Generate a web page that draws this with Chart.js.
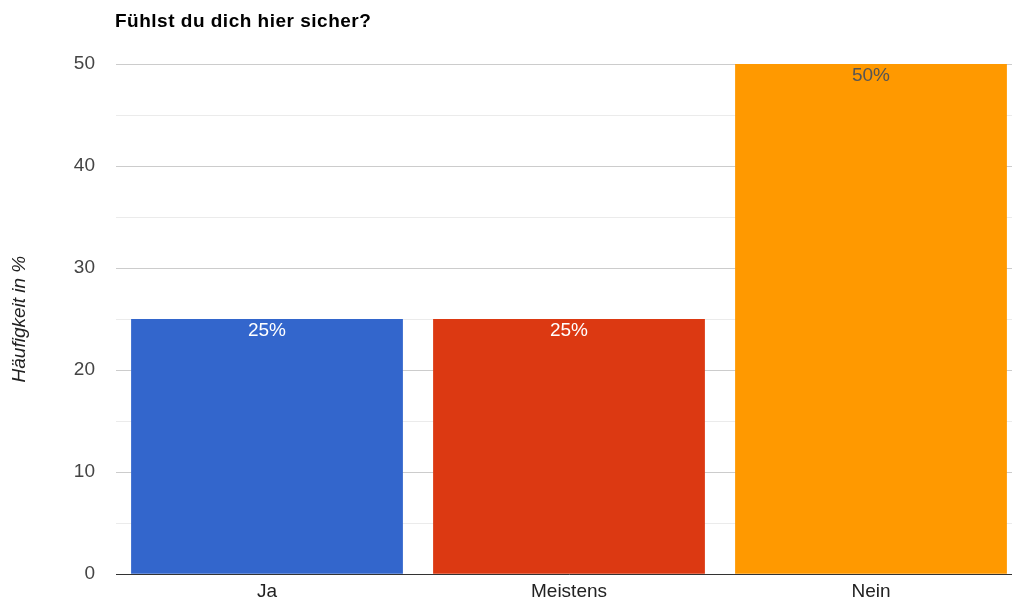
<!DOCTYPE html>
<html>
<head>
<meta charset="utf-8">
<script src="https://cdn.jsdelivr.net/npm/chart.js@4"></script>
<style>
html,body{margin:0;padding:0;background:#fff;overflow:hidden;}
#wrap{width:1012px;height:601px;position:relative;overflow:hidden;}
#c{position:absolute;left:0;top:0;}
</style>
</head>
<body>
<div id="wrap"><canvas id="c" width="1022" height="609"></canvas></div>
<script>
const categories = ["Ja", "Meistens", "Nein"];
const values = [25, 25, 50];
const valueLabels = ["25%", "25%", "50%"];
const barColors = ["#3366CC", "#DC3912", "#FF9900"];
const labelColors = ["#ffffff", "#ffffff", "#555555"];
const chartTitle = "Fühlst du dich hier sicher?";
const yTitle = "Häufigkeit in %";

const FONT = "'Liberation Sans', Arial, sans-serif";

const titlePlugin = {
  id: 'leftTitle',
  afterDraw(chart) {
    const ctx = chart.ctx;
    ctx.save();
    ctx.font = "bold 19px " + FONT;
    try { ctx.letterSpacing = "0.5px"; } catch (e) {}
    ctx.fillStyle = "#000";
    ctx.textAlign = "left";
    ctx.textBaseline = "middle";
    ctx.fillText(chartTitle, chart.chartArea.left - 1, 22);
    ctx.restore();
  }
};

const labelPlugin = {
  id: 'barLabels',
  afterDatasetsDraw(chart) {
    const ctx = chart.ctx;
    const meta = chart.getDatasetMeta(0);
    ctx.save();
    ctx.font = "19px " + FONT;
    ctx.textAlign = "center";
    ctx.textBaseline = "middle";
    meta.data.forEach((bar, i) => {
      ctx.fillStyle = labelColors[i];
      ctx.fillText(valueLabels[i], bar.x, bar.y + 12);
    });
    ctx.restore();
  }
};

new Chart(document.getElementById('c'), {
  type: 'bar',
  data: {
    labels: categories,
    datasets: [{
      data: values,
      backgroundColor: barColors,
      borderWidth: 0,
      barPercentage: 0.9,
      categoryPercentage: 1.0
    }]
  },
  options: {
    responsive: false,
    animation: false,
    devicePixelRatio: 1,
    layout: { padding: { top: 64, left: 0, right: 0, bottom: 0 } },
    plugins: {
      legend: { display: false },
      tooltip: { enabled: false },
      title: { display: false }
    },
    scales: {
      x: {
        grid: { display: false, drawTicks: false },
        border: { display: true, color: "#333333", width: 1 },
        ticks: { color: "#222222", font: { family: FONT, size: 19 }, padding: 6 }
      },
      y: {
        min: 0, max: 50,
        afterFit(scale) { scale.width = 116; },
        border: { display: false },
        grid: {
          drawTicks: false,
          color(ctx) {
            const v = ctx.tick ? ctx.tick.value : 0;
            return v % 10 === 0 ? "#cccccc" : "#ebebeb";
          }
        },
        ticks: {
          stepSize: 5,
          padding: 21,
          color: "#444444",
          font: { family: FONT, size: 19 },
          callback(v) { return v % 10 === 0 ? String(v) : ""; }
        },
        title: {
          display: true,
          text: yTitle,
          color: "#222222",
          font: { family: FONT, size: 19, style: 'italic' },
          padding: { top: 8, bottom: 0 }
        }
      }
    }
  },
  plugins: [titlePlugin, labelPlugin]
});
</script>
</body>
</html>
